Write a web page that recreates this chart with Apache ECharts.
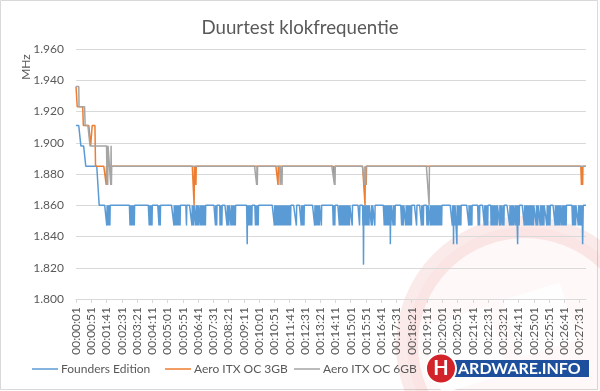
<!DOCTYPE html>
<html><head><meta charset="utf-8">
<script src="https://cdn.jsdelivr.net/npm/echarts@6/dist/echarts.min.js"></script>
<style>html,body{margin:0;padding:0;background:#fff}#c{width:600px;height:391px}</style>
</head><body><div id="c"></div>
<script>
const N = 1672; // samples, one per second from 00:00:01
const seriesNames = ['Founders Edition', 'Aero ITX OC 3GB', 'Aero ITX OC 6GB'];
const yTicks = [1800, 1820, 1840, 1860, 1880, 1900, 1920, 1940, 1960];

// base level runs: [startIndex, MHz]
const foundersLevels = [[0,1911],[16,1898],[32,1885],[76,1860]];
const aero3Levels = [[0,1936],[4,1923],[24,1911],[48,1898],[53,1911],[64,1885]];
const aero6Levels = [[0,1936],[10,1923],[30,1911],[46,1898],[117,1885]];

// short dips: sample indices
const foundersDip1847 = [101,103,105,107,109,111,177,179,181,183,185,187,189,191,240,242,244,249,272,276,
321,323,325,327,329,331,333,335,337,339,341,362,380,382,384,386,393,395,397,399,401,407,409,411,413,415,417,420,422,424,
457,459,461,472,475,478,495,498,501,508,510,512,514,516,518,520,522,563,565,570,572,574,576,588,592,594,597,
650,652,654,658,660,662,664,666,668,670,672,674,676,678,680,682,686,691,693,695,699,701,703,722,738,740,744,747,
782,784,786,788,791,793,795,797,804,843,845,848,863,865,867,871,873,875,877,879,881,883,885,887,889,891,
894,896,905,929,940,944,946,948,950,952,954,956,958,960,968,971,979,1010,1012,1014,1016,1018,1020,1022,1024,1026,1028,1032,
1039,1042,1045,1067,1070,1073,1081,1083,1085,1089,1091,1093,1095,1099,1116,1132,1135,1138,1150,1152,1154,
1161,1163,1165,1167,1169,1171,1173,1175,1177,1179,1181,1183,1185,1187,1189,1193,1196,1198,1233,1235,1239,1241,
1252,1254,1256,1258,1261,1287,1289,1291,1293,1295,1297,1318,1320,1322,1338,1342,1344,1347,1349,
1360,1362,1364,1366,1368,1370,1372,1375,1378,1380,1388,1390,1392,1398,1400,1402,1421,1423,1425,1427,1429,1432,1434,
1440,1443,1449,1452,1469,1471,1473,1475,1480,1482,1484,1486,1491,1493,1495,1497,1499,1508,1511,1513,
1521,1523,1525,1527,1529,1531,1533,1543,1545,1547,1549,1551,1553,1570,1572,1574,1576,1578,1580,1582,1584,1586,
1592,1594,1596,1598,1602,1604,1606,1627,1629,1633,1635,1637,1646,1648,1651,1653,1655,1657,1659,1661];
const foundersDip1835 = [561,1030,1237,1248,1447,1660];
const foundersDip1822 = [942];
const aero3Dip1873 = [99,101,390,393,662,848,949,951,1656,1658,1660];
const aero3Dip1860 = [387,947];
const aero6Dip1873 = [102,104,114,116,592,594,669,675,847,946,949];
const aero6Dip1860 = [1157];

function pad(n){return (n<10?'0':'')+n;}
const categories = [];
for (let i=0;i<N;i++){const t=i+1;categories.push(pad(Math.floor(t/3600))+':'+pad(Math.floor(t/60)%60)+':'+pad(t%60));}

function build(levels, dips){
  const arr=[];let li=0;
  for(let i=0;i<N;i++){while(li+1<levels.length&&levels[li+1][0]<=i)li++;arr.push(levels[li][1]);}
  dips.forEach(([v,list])=>list.forEach(ix=>{if(ix<N)arr[ix]=v;}));
  return arr;
}
const founders = build(foundersLevels, [[1847,foundersDip1847],[1835,foundersDip1835],[1822,foundersDip1822]]);
const aero3 = build(aero3Levels, [[1873,aero3Dip1873],[1860,aero3Dip1860]]);
const aero6 = build(aero6Levels, [[1873,aero6Dip1873],[1860,aero6Dip1860]]);

const FONT = 'Lato';
const TXT = '#595959';
const chart = echarts.init(document.getElementById('c'), null, {renderer:'canvas'});
const mkLegend = (name, left) => ({data:[name], left:left, top:363, icon:'rect', itemWidth:26, itemHeight:1.5,
  textStyle:{fontFamily:FONT, fontSize:12, color:TXT, padding:[0,0,0,-2]}, padding:0, itemGap:0});
chart.setOption({
  animation:false,
  backgroundColor:'#fff',
  title:{text:'Duurtest klokfrequentie', left:'center', top:13,
    textStyle:{fontFamily:FONT, fontSize:18.7, fontWeight:'normal', color:TXT}},
  legend:[mkLegend(seriesNames[0],32), mkLegend(seriesNames[1],165), mkLegend(seriesNames[2],294)],
  grid:{left:76, right:14, top:49, bottom:92, containLabel:false},
  xAxis:{type:'category', data:categories, boundaryGap:false,
    axisLine:{lineStyle:{color:'#d9d9d9'}},
    axisTick:{interval:49, length:4, lineStyle:{color:'#d9d9d9'}},
    axisLabel:{interval:49, rotate:90, margin:8, fontFamily:FONT, fontSize:12, color:TXT}},
  yAxis:{type:'value', min:yTicks[0], max:yTicks[yTicks.length-1], interval:20,
    axisLine:{show:false}, axisTick:{show:false},
    splitLine:{lineStyle:{color:'#d9d9d9'}},
    axisLabel:{margin:12, fontFamily:FONT, fontSize:12, color:TXT, formatter:v=>(v/1000).toFixed(3)}},
  graphic:[
    {type:'rect', shape:{x:0.5,y:0.5,width:597,height:389}, style:{fill:'none', stroke:'#d9d9d9', lineWidth:1}, z:-10},
    {type:'circle', shape:{cx:525, cy:345, r:118}, style:{fill:'rgba(230,120,120,0.05)', stroke:'rgba(225,90,90,0.13)', lineWidth:22}, z:-5, silent:true},
    {type:'rect', shape:{x:-35,y:-35,width:70,height:70}, x:465, y:350, rotation:0.3, style:{fill:'rgba(255,255,255,0.85)'}, z:-4, silent:true},
    {type:'rect', shape:{x:-30,y:-30,width:60,height:60}, x:540, y:320, rotation:0.3, style:{fill:'rgba(255,255,255,0.85)'}, z:-4, silent:true},
    {type:'text', x:26, y:67, rotation:Math.PI/2, style:{text:'MHz', font:'12px '+FONT, fill:TXT, textAlign:'center', textVerticalAlign:'middle'}},
    {type:'rect', shape:{x:428,y:360,width:161,height:17}, style:{fill:'#1d4f9c'}, z:10},
    {type:'circle', shape:{cx:441, cy:368.5, r:15}, style:{fill:'#d2232a', stroke:'#fff', lineWidth:2}, z:11},
    {type:'text', x:441, y:369, style:{text:'H', font:'bold 20px Lato', fill:'#fff', textAlign:'center', textVerticalAlign:'middle'}, z:12},
    {type:'text', x:458, y:369, style:{text:'ARDWARE.INFO', font:'bold 16px Lato', fill:'#fff', textAlign:'left', textVerticalAlign:'middle'}, z:12}
  ],
  series:[
    {name:seriesNames[0], type:'line', data:founders, showSymbol:false, symbol:'none', lineStyle:{width:1.5, color:'#5B9BD5'}, itemStyle:{color:'#5B9BD5'}},
    {name:seriesNames[1], type:'line', data:aero3, showSymbol:false, symbol:'none', lineStyle:{width:1.5, color:'#ED7D31'}, itemStyle:{color:'#ED7D31'}},
    {name:seriesNames[2], type:'line', data:aero6, showSymbol:false, symbol:'none', lineStyle:{width:1.5, color:'#A5A5A5'}, itemStyle:{color:'#A5A5A5'}}
  ]
});
</script></body></html>
